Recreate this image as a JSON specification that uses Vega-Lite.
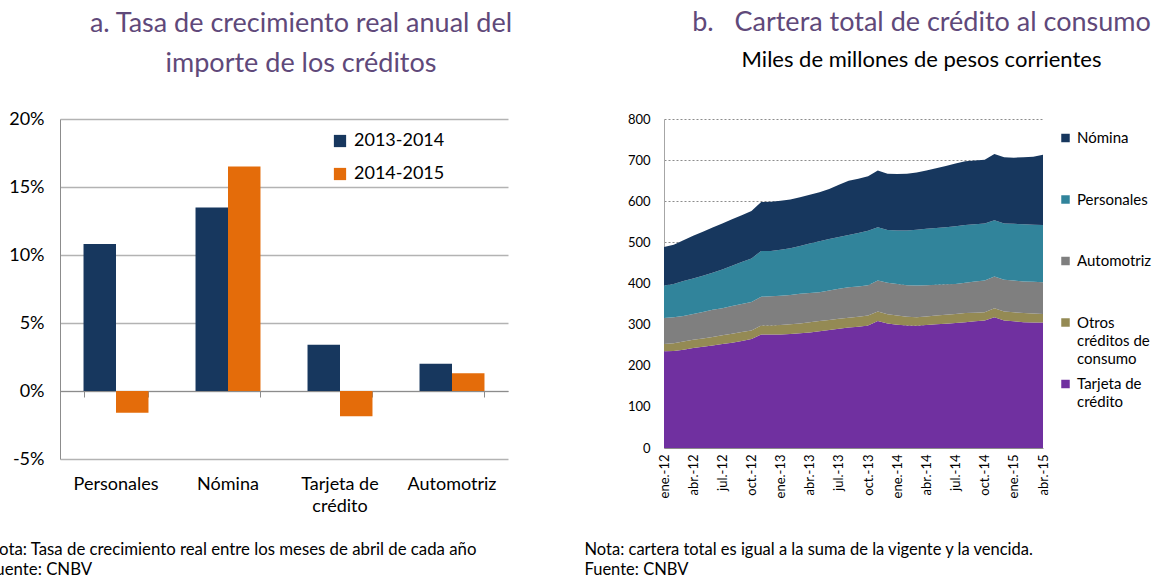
{
  "$schema": "https://vega.github.io/schema/vega-lite/v6.json",
  "padding": {"left": -14, "top": 9, "right": 0, "bottom": 0},
  "bounds": "flush",
  "spacing": 156,
  "resolve": {"scale": {"color": "independent"}, "legend": {"color": "independent"}},
  "config": {
    "font": "Lato",
    "view": {"stroke": null},
    "axis": {"labelFont": "Lato", "titleFont": "Lato", "labelColor": "#000000", "titleColor": "#000000"},
    "legend": {"labelFont": "Lato", "labelColor": "#000000"},
    "title": {"font": "Lato", "subtitleFont": "Lato"}
  },
  "datasets": {
    "tasas": [
      {"categoria": "Personales", "periodo": "2013-2014", "valor": 10.8},
      {"categoria": "Personales", "periodo": "2014-2015", "valor": -1.6},
      {"categoria": "Nómina", "periodo": "2013-2014", "valor": 13.5},
      {"categoria": "Nómina", "periodo": "2014-2015", "valor": 16.5},
      {"categoria": "Tarjeta de crédito", "periodo": "2013-2014", "valor": 3.4},
      {"categoria": "Tarjeta de crédito", "periodo": "2014-2015", "valor": -1.85},
      {"categoria": "Automotriz", "periodo": "2013-2014", "valor": 2.0},
      {"categoria": "Automotriz", "periodo": "2014-2015", "valor": 1.3}
    ],
    "series": [
      {"serie": "Tarjeta de crédito", "orden": 1},
      {"serie": "Otros créditos de consumo", "orden": 2},
      {"serie": "Automotriz", "orden": 3},
      {"serie": "Personales", "orden": 4},
      {"serie": "Nómina", "orden": 5}
    ],
    "cartera": [
      {"mes": "ene.-12", "Tarjeta de crédito": 235, "Otros créditos de consumo": 18, "Automotriz": 63, "Personales": 79, "Nómina": 94},
      {"mes": "feb.-12", "Tarjeta de crédito": 236, "Otros créditos de consumo": 19, "Automotriz": 63, "Personales": 81, "Nómina": 95},
      {"mes": "mar.-12", "Tarjeta de crédito": 239, "Otros créditos de consumo": 20, "Automotriz": 62, "Personales": 85, "Nómina": 99},
      {"mes": "abr.-12", "Tarjeta de crédito": 243, "Otros créditos de consumo": 20, "Automotriz": 63, "Personales": 86, "Nómina": 104},
      {"mes": "may.-12", "Tarjeta de crédito": 246, "Otros créditos de consumo": 20, "Automotriz": 65, "Personales": 88, "Nómina": 107},
      {"mes": "jun.-12", "Tarjeta de crédito": 249, "Otros créditos de consumo": 21, "Automotriz": 66, "Personales": 90, "Nómina": 110},
      {"mes": "jul.-12", "Tarjeta de crédito": 253, "Otros créditos de consumo": 21, "Automotriz": 66, "Personales": 94, "Nómina": 112},
      {"mes": "ago.-12", "Tarjeta de crédito": 256, "Otros créditos de consumo": 22, "Automotriz": 67, "Personales": 98, "Nómina": 113},
      {"mes": "sep.-12", "Tarjeta de crédito": 260, "Otros créditos de consumo": 22, "Automotriz": 68, "Personales": 102, "Nómina": 114},
      {"mes": "oct.-12", "Tarjeta de crédito": 265, "Otros créditos de consumo": 21, "Automotriz": 69, "Personales": 106, "Nómina": 115},
      {"mes": "nov.-12", "Tarjeta de crédito": 276, "Otros créditos de consumo": 22, "Automotriz": 70, "Personales": 111, "Nómina": 119},
      {"mes": "dic.-12", "Tarjeta de crédito": 276, "Otros créditos de consumo": 22, "Automotriz": 71, "Personales": 110, "Nómina": 120},
      {"mes": "ene.-13", "Tarjeta de crédito": 276, "Otros créditos de consumo": 23, "Automotriz": 71, "Personales": 112, "Nómina": 119},
      {"mes": "feb.-13", "Tarjeta de crédito": 277, "Otros créditos de consumo": 24, "Automotriz": 71, "Personales": 114, "Nómina": 118},
      {"mes": "mar.-13", "Tarjeta de crédito": 279, "Otros créditos de consumo": 24, "Automotriz": 72, "Personales": 116, "Nómina": 119},
      {"mes": "abr.-13", "Tarjeta de crédito": 281, "Otros créditos de consumo": 25, "Automotriz": 71, "Personales": 120, "Nómina": 119},
      {"mes": "may.-13", "Tarjeta de crédito": 284, "Otros créditos de consumo": 25, "Automotriz": 70, "Personales": 124, "Nómina": 119},
      {"mes": "jun.-13", "Tarjeta de crédito": 287, "Otros créditos de consumo": 24, "Automotriz": 72, "Personales": 125, "Nómina": 122},
      {"mes": "jul.-13", "Tarjeta de crédito": 290, "Otros créditos de consumo": 24, "Automotriz": 73, "Personales": 126, "Nómina": 127},
      {"mes": "ago.-13", "Tarjeta de crédito": 293, "Otros créditos de consumo": 24, "Automotriz": 74, "Personales": 127, "Nómina": 132},
      {"mes": "sep.-13", "Tarjeta de crédito": 295, "Otros créditos de consumo": 24, "Automotriz": 74, "Personales": 130, "Nómina": 132},
      {"mes": "oct.-13", "Tarjeta de crédito": 298, "Otros créditos de consumo": 24, "Automotriz": 74, "Personales": 132, "Nómina": 133},
      {"mes": "nov.-13", "Tarjeta de crédito": 309, "Otros créditos de consumo": 23, "Automotriz": 75, "Personales": 130, "Nómina": 138},
      {"mes": "dic.-13", "Tarjeta de crédito": 303, "Otros créditos de consumo": 22, "Automotriz": 77, "Personales": 128, "Nómina": 137},
      {"mes": "ene.-14", "Tarjeta de crédito": 300, "Otros créditos de consumo": 22, "Automotriz": 77, "Personales": 130, "Nómina": 137},
      {"mes": "feb.-14", "Tarjeta de crédito": 298, "Otros créditos de consumo": 21, "Automotriz": 77, "Personales": 133, "Nómina": 138},
      {"mes": "mar.-14", "Tarjeta de crédito": 297, "Otros créditos de consumo": 21, "Automotriz": 77, "Personales": 136, "Nómina": 139},
      {"mes": "abr.-14", "Tarjeta de crédito": 299, "Otros créditos de consumo": 21, "Automotriz": 76, "Personales": 137, "Nómina": 142},
      {"mes": "may.-14", "Tarjeta de crédito": 301, "Otros créditos de consumo": 21, "Automotriz": 75, "Personales": 138, "Nómina": 145},
      {"mes": "jun.-14", "Tarjeta de crédito": 302, "Otros créditos de consumo": 22, "Automotriz": 74, "Personales": 139, "Nómina": 149},
      {"mes": "jul.-14", "Tarjeta de crédito": 304, "Otros créditos de consumo": 22, "Automotriz": 73, "Personales": 140, "Nómina": 153},
      {"mes": "ago.-14", "Tarjeta de crédito": 306, "Otros créditos de consumo": 22, "Automotriz": 74, "Personales": 140, "Nómina": 155},
      {"mes": "sep.-14", "Tarjeta de crédito": 308, "Otros créditos de consumo": 21, "Automotriz": 76, "Personales": 139, "Nómina": 155},
      {"mes": "oct.-14", "Tarjeta de crédito": 310, "Otros créditos de consumo": 20, "Automotriz": 77, "Personales": 139, "Nómina": 155},
      {"mes": "nov.-14", "Tarjeta de crédito": 318, "Otros créditos de consumo": 22, "Automotriz": 77, "Personales": 137, "Nómina": 161},
      {"mes": "dic.-14", "Tarjeta de crédito": 310, "Otros créditos de consumo": 22, "Automotriz": 77, "Personales": 137, "Nómina": 161},
      {"mes": "ene.-15", "Tarjeta de crédito": 308, "Otros créditos de consumo": 22, "Automotriz": 77, "Personales": 138, "Nómina": 161},
      {"mes": "feb.-15", "Tarjeta de crédito": 306, "Otros créditos de consumo": 22, "Automotriz": 77, "Personales": 139, "Nómina": 163},
      {"mes": "mar.-15", "Tarjeta de crédito": 305, "Otros créditos de consumo": 22, "Automotriz": 77, "Personales": 139, "Nómina": 165},
      {"mes": "abr.-15", "Tarjeta de crédito": 305, "Otros créditos de consumo": 21, "Automotriz": 77, "Personales": 139, "Nómina": 171}
    ]
  },
  "hconcat": [
    {
      "width": 448,
      "height": 340,
      "title": {
        "text": ["a. Tasa de crecimiento real anual del", "importe de los créditos"],
        "fontSize": 27,
        "fontWeight": "normal",
        "color": "#5F497A",
        "lineHeight": 40,
        "anchor": "middle",
        "dx": 17,
        "offset": 32
      },
      "data": {"name": "tasas"},
      "layer": [
        {
          "mark": {"type": "bar"},
          "encoding": {
            "x": {
              "field": "categoria",
              "type": "nominal",
              "sort": null,
              "scale": {"paddingInner": 0.42, "paddingOuter": 0.21},
              "axis": {
                "orient": "bottom",
                "domain": false,
                "ticks": false,
                "labelAngle": 0,
                "labelFontSize": 18,
                "labelPadding": 16,
                "labelLineHeight": 22,
                "labelExpr": "datum.label == 'Tarjeta de crédito' ? ['Tarjeta de', 'crédito'] : datum.label",
                "title": ["Nota: Tasa de crecimiento real entre los meses de abril de cada año", "Fuente: CNBV"],
                "titleX": -74,
                "titleY": 90,
                "titleAlign": "left",
                "titleBaseline": "middle",
                "titleFontSize": 16.8,
                "titleFontWeight": "normal",
                "titleLineHeight": 20
              }
            },
            "xOffset": {"field": "periodo", "type": "nominal"},
            "y": {
              "field": "valor",
              "type": "quantitative",
              "scale": {"domain": [-5, 20], "nice": false},
              "axis": {
                "values": [-5, 0, 5, 10, 15, 20],
                "labelExpr": "datum.value + '%'",
                "labelFontSize": 18,
                "labelPadding": 16,
                "ticks": false,
                "domain": true,
                "domainColor": "#8C8C8C",
                "gridColor": "#B3B3B3",
                "gridWidth": 1.3,
                "title": null
              }
            },
            "color": {
              "field": "periodo",
              "type": "nominal",
              "scale": {"domain": ["2013-2014", "2014-2015"], "range": ["#17375E", "#E46C0A"]},
              "legend": {
                "title": null,
                "orient": "none",
                "legendX": 271,
                "legendY": 13,
                "padding": 0,
                "symbolType": "square",
                "symbolSize": 150,
                "symbolStrokeWidth": 0,
                "symbolOpacity": 1,
                "labelFontSize": 18,
                "labelOffset": 5,
                "rowPadding": 15
              }
            }
          }
        },
        {
          "mark": {"type": "point", "opacity": 0},
          "encoding": {
            "x": {
              "field": "categoria",
              "type": "nominal",
              "sort": null,
              "axis": {
                "orient": "bottom",
                "offset": -68,
                "labels": false,
                "domain": true,
                "domainColor": "#8C8C8C",
                "ticks": true,
                "tickBand": "extent",
                "tickColor": "#8C8C8C",
                "tickSize": 6,
                "grid": false,
                "title": null
              }
            },
            "y": {"datum": 0, "type": "quantitative"}
          }
        }
      ],
      "resolve": {"axis": {"x": "independent"}}
    },
    {
      "width": 379,
      "height": 329,
      "title": {
        "text": "b.\u00a0\u00a0\u00a0Cartera total de crédito al consumo",
        "subtitle": "Miles de millones de pesos corrientes",
        "fontSize": 27,
        "fontWeight": "normal",
        "color": "#5F497A",
        "subtitleFontSize": 22,
        "subtitleColor": "#000000",
        "subtitlePadding": 13,
        "anchor": "middle",
        "dx": 68,
        "offset": 41
      },
      "data": {"name": "cartera"},
      "transform": [
        {"fold": ["Tarjeta de crédito", "Otros créditos de consumo", "Automotriz", "Personales", "Nómina"], "as": ["serie", "valor"]},
        {"lookup": "serie", "from": {"data": {"name": "series"}, "key": "serie", "fields": ["orden"]}}
      ],
      "mark": {"type": "area"},
      "encoding": {
        "x": {
          "field": "mes",
          "type": "ordinal",
          "sort": null,
          "scale": {"type": "point", "padding": 0},
          "axis": {
            "values": ["ene.-12", "abr.-12", "jul.-12", "oct.-12", "ene.-13", "abr.-13", "jul.-13", "oct.-13", "ene.-14", "abr.-14", "jul.-14", "oct.-14", "ene.-15", "abr.-15"],
            "labelAngle": -90,
            "labelFontSize": 13,
            "labelPadding": 6,
            "ticks": false,
            "domain": true,
            "domainColor": "#8C8C8C",
            "grid": false,
            "title": ["Nota: cartera total es igual a la suma de la vigente y la vencida.", "Fuente: CNBV"],
            "titleX": -80,
            "titleY": 101,
            "titleAlign": "left",
            "titleBaseline": "middle",
            "titleFontSize": 16.5,
            "titleFontWeight": "normal",
            "titleLineHeight": 20
          }
        },
        "y": {
          "field": "valor",
          "type": "quantitative",
          "stack": "zero",
          "scale": {"domain": [0, 800], "nice": false},
          "axis": {
            "values": [0, 100, 200, 300, 400, 500, 600, 700, 800],
            "labelFontSize": 13,
            "labelPadding": 14,
            "ticks": false,
            "domain": true,
            "domainColor": "#A6A6A6",
            "gridColor": "#8C8C8C",
            "gridDash": [2, 2],
            "gridWidth": 1,
            "title": null
          }
        },
        "color": {
          "field": "serie",
          "type": "nominal",
          "scale": {
            "domain": ["Nómina", "Personales", "Automotriz", "Otros créditos de consumo", "Tarjeta de crédito"],
            "range": ["#17375E", "#31849B", "#7F7F7F", "#948A54", "#7030A0"]
          },
          "legend": {
            "title": null,
            "orient": "none",
            "legendX": 394,
            "legendY": 11.5,
            "padding": 0,
            "symbolType": "square",
            "symbolSize": 72,
            "symbolStrokeWidth": 0,
            "symbolOpacity": 1,
            "labelFontSize": 15,
            "labelOffset": 4,
            "rowPadding": 9.5,
            "labelExpr": "datum.label == 'Otros créditos de consumo' ? ['Otros', 'créditos de', 'consumo'] : datum.label == 'Tarjeta de crédito' ? ['Tarjeta de', 'crédito', ''] : [datum.label, '', '']",
            "encode": {"labels": {"update": {"lineHeight": {"value": 18}}}}
          }
        },
        "order": {"field": "orden", "type": "quantitative"}
      }
    }
  ]
}
